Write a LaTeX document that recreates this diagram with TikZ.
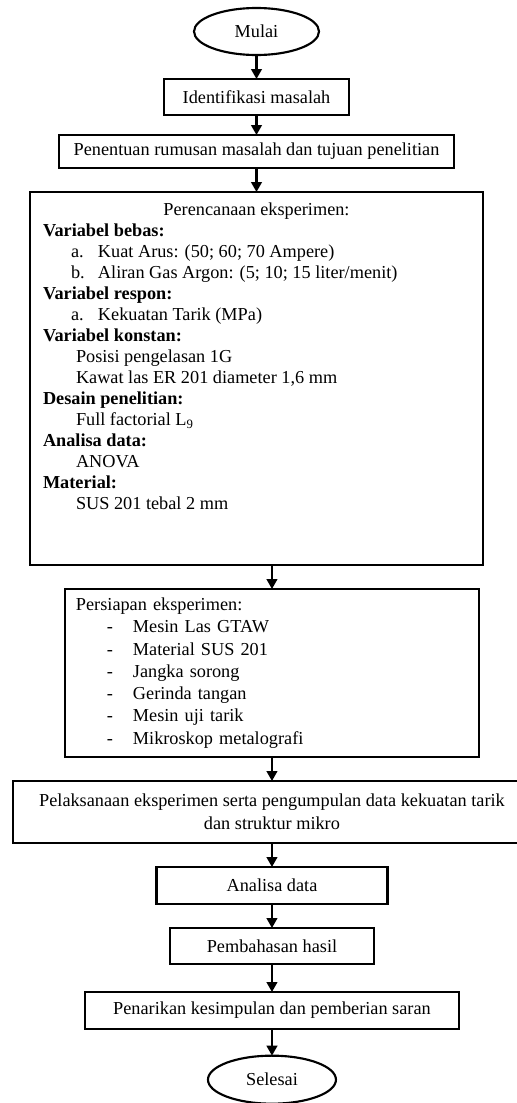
\documentclass[tikz,border=0pt]{standalone}
\usepackage{fontspec}
\setmainfont{Liberation Serif}
\usetikzlibrary{positioning,shapes.geometric,arrows.meta}

\newcommand{\butir}[2]{\hspace*{21pt}\makebox[20.25pt][l]{#1}#2\par}
\newcommand{\isi}[1]{\hspace*{24.75pt}#1\par}
\newcommand{\strip}[1]{\hspace*{23.25pt}\makebox[19.5pt][l]{-}#1\par}

\tikzset{
  gaya alur/.style={
      x=0.75pt, y=-0.75pt,
      node distance=18pt,
      line width=1.6pt,
      kotak/.style={rectangle, draw, inner sep=0pt, outer sep=0pt},
      terminal/.style={ellipse, draw, inner sep=0pt, outer sep=0pt, minimum width=93.75pt, minimum height=35.25pt},
      panah/.style={-{Triangle[length=7.5pt, width=8pt]}},
      every node/.style={font={\fontsize{13.7pt}{15.75pt}\selectfont}},
    },
}

\begin{document}
\begin{tikzpicture}[gaya alur]
    \useasboundingbox (0,0) rectangle (517,1103);

    \node[terminal] (mulai) at (256.5,31.5) {Mulai};
    \node[kotak, below=of mulai, minimum width=138.75pt, minimum height=27pt] (identifikasi) {Identifikasi masalah};
    \node[kotak, below=15pt of identifikasi, minimum width=296.25pt, minimum height=24.75pt] (rumusan) {Penentuan rumusan masalah dan tujuan penelitian};
    \node[kotak, below=of rumusan, inner xsep=9.75pt] (perencanaan) {\parbox[c][279.75pt][t]{320.25pt}{%
        {\centering\rule{0pt}{17.6pt}Perencanaan eksperimen:\par}
        \textbf{Variabel bebas:}\par
        \butir{a.}{Kuat Arus: (50; 60; 70 Ampere)}
        \butir{b.}{Aliran Gas Argon: (5; 10; 15 liter/menit)}
        \textbf{Variabel respon:}\par
        \butir{a.}{Kekuatan Tarik (MPa)}
        \textbf{Variabel konstan:}\par
        \isi{Posisi pengelasan 1G}
        \isi{Kawat las ER 201 diameter 1,6 mm}
        \textbf{Desain penelitian:}\par
        \isi{Full factorial L\textsubscript{9}}
        \textbf{Analisa data:}\par
        \isi{ANOVA}
        \textbf{Material:}\par
        \isi{SUS 201 tebal 2 mm}}};
    \node[kotak, below=of perencanaan, xshift=11.6pt, inner xsep=8.25pt, minimum height=126pt,
          text width=294pt, align=left, font={\fontsize{13.7pt}{16.7pt}\selectfont}] (persiapan) {%
        Persiapan eksperimen:\par
        \strip{Mesin Las GTAW}
        \strip{Material SUS 201}
        \strip{Jangka sorong}
        \strip{Gerinda tangan}
        \strip{Mesin uji tarik}
        \strip{Mikroskop metalografi}};
    \node[kotak, below=of persiapan, minimum width=388.5pt, minimum height=46.5pt, align=center,
          font={\fontsize{13.7pt}{17.25pt}\selectfont}] (pelaksanaan) {Pelaksanaan eksperimen serta pengumpulan data kekuatan tarik\\dan struktur mikro};
    \node[kotak, below=of pelaksanaan, minimum width=173.25pt, minimum height=27.75pt] (analisa) {Analisa data};
    \node[kotak, below=of analisa, minimum width=153pt, minimum height=27pt] (pembahasan) {Pembahasan hasil};
    \node[kotak, below=21pt of pembahasan, minimum width=280.5pt, minimum height=27.75pt] (penarikan) {Penarikan kesimpulan dan pemberian saran};
    \node[terminal, below=20pt of penarikan, minimum width=96pt, minimum height=36pt] (selesai) {Selesai};

    \draw[panah] (mulai) -- (identifikasi);
    \draw[panah] (identifikasi) -- (rumusan);
    \draw[panah] (rumusan) -- (perencanaan);
    \draw[panah] (perencanaan.south -| persiapan.north) -- (persiapan);
    \draw[panah] (persiapan) -- (pelaksanaan);
    \draw[panah] (pelaksanaan) -- (analisa);
    \draw[panah] (analisa) -- (pembahasan);
    \draw[panah] (pembahasan) -- (penarikan);
    \draw[panah] (penarikan) -- (selesai);
\end{tikzpicture}
\end{document}
